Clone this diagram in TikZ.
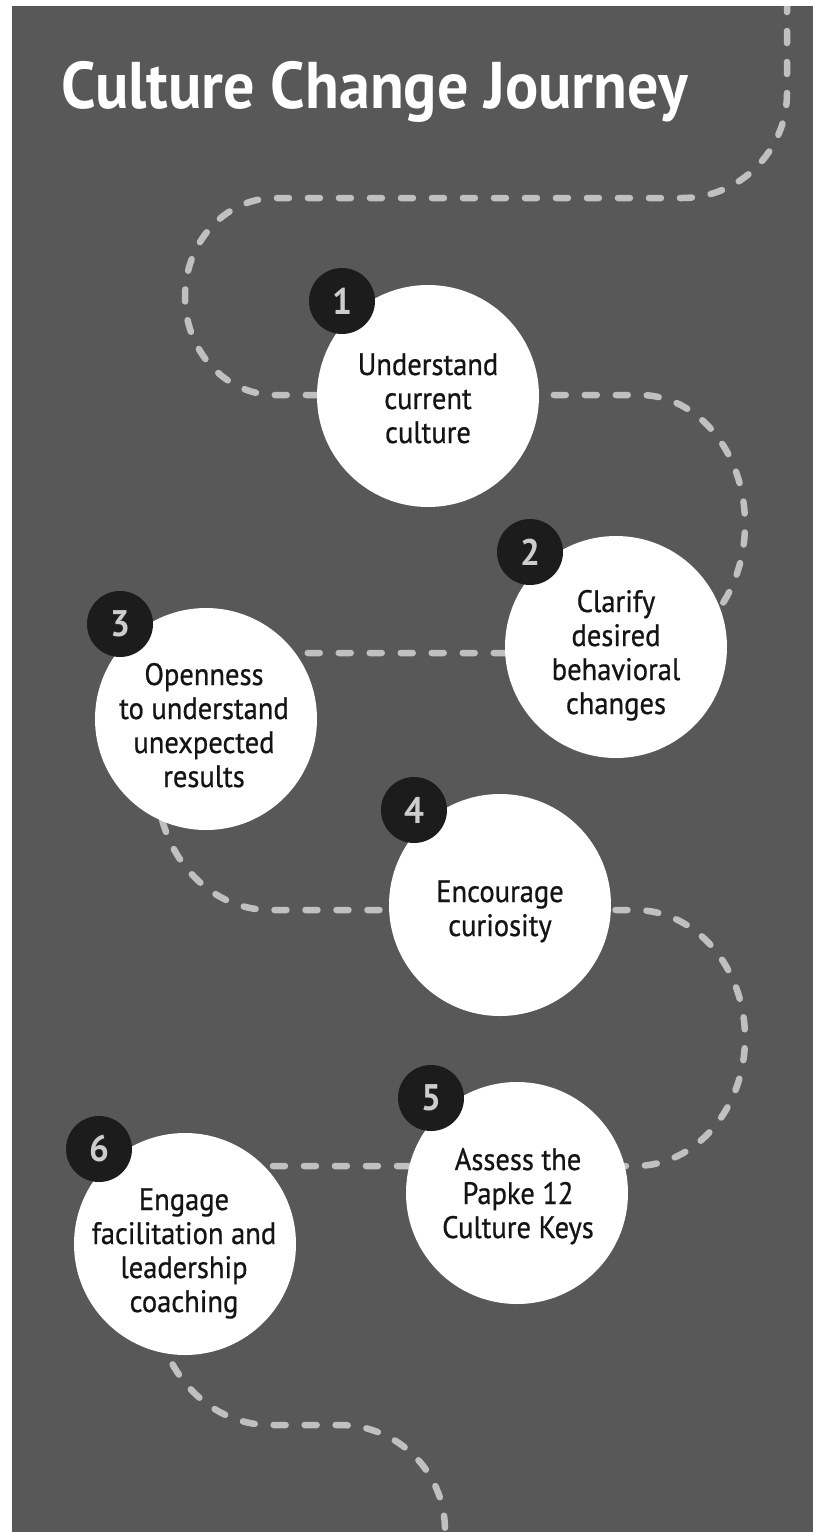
\documentclass[tikz,border=0pt]{standalone}
\usepackage{fontspec}
\usetikzlibrary{calc}
\setmainfont{PT Sans}
\newfontfamily\bodyfont[FakeStretch=0.92,FakeBold=0.7]{PT Sans}
\newfontfamily\titlefont[FakeStretch=0.94]{PT Sans}
\newfontfamily\numfont[FakeStretch=0.95]{PT Sans}
\definecolor{bg}{RGB}{88,88,88}
\definecolor{dashc}{RGB}{192,192,192}
\definecolor{badgecol}{RGB}{28,28,28}
\definecolor{numc}{RGB}{205,205,205}
\definecolor{ink}{RGB}{20,20,20}
\newcommand{\stk}[1]{\begin{tabular}[t]{@{}c@{}}#1\end{tabular}}
\tikzset{
  stepcircle/.style={circle, fill=white, minimum size=222pt, inner sep=0pt},
  badgenode/.style={circle, fill=badgecol, minimum size=66pt, inner sep=0pt, text=numc,
    font=\numfont\bfseries\fontsize{37}{37}\selectfont},
  steptext/.style={anchor=base, text=ink, inner sep=0pt,
    font=\bodyfont\fontsize{31}{34}\selectfont},
  road/.style={draw=dashc, line width=6.5pt, line cap=round, dash pattern=on 12pt off 19pt},
}
\begin{document}
\begin{tikzpicture}[x=1pt,y=-1pt]
\useasboundingbox (0,0) rectangle (813,1532);
\fill[white] (0,0) rectangle (813,1532);
\fill[bg] (12,6) rectangle (813,1532);

% winding road
\begin{scope}
\clip (12,6) rectangle (813,1532);
\draw[road] (787,0) -- (787,93)
  .. controls (787,151) and (740,198) .. (682,198)
  -- (275,198)
  .. controls (225.3,198) and (185,242.1) .. (185,296.5)
  .. controls (185,350.9) and (225.3,395) .. (275,395)
  -- (640,395)
  .. controls (698,395) and (745,452.8) .. (745,524)
  .. controls (745,595.2) and (698,653) .. (640,653)
  -- (270,653)
  .. controls (207.6,653) and (157,710.5) .. (157,781.5)
  .. controls (157,852.5) and (207.6,910) .. (270,910)
  -- (635,910)
  .. controls (695.8,910) and (745,967.3) .. (745,1038)
  .. controls (745,1108.7) and (695.8,1166) .. (635,1166)
  -- (270,1166)
  .. controls (206.5,1166) and (155,1224) .. (155,1295.5)
  .. controls (155,1367) and (206.5,1425) .. (270,1425)
  -- (340,1425)
  .. controls (398,1425) and (445,1472) .. (445,1530)
  -- (445,1545);
\end{scope}

% title
\node[anchor=base west, inner sep=0pt, text=white,
  font=\titlefont\bfseries\fontsize{66}{66}\selectfont] (title) at (61,108) {Culture Change Journey};

% circles
\node[stepcircle] (c1) at (428,396) {};
\node[stepcircle] (c2) at (616,647) {};
\node[stepcircle] (c3) at (206,719) {};
\node[stepcircle] (c4) at (500,905) {};
\node[stepcircle] (c5) at (517,1193) {};
\node[stepcircle] (c6) at (185,1244) {};

% badges
\node[badgenode] (b1) at ($(c1)+(-86,-95)$) {1};
\node[badgenode] (b2) at ($(c2)+(-86,-95)$) {2};
\node[badgenode] (b3) at ($(c3)+(-86,-95)$) {3};
\node[badgenode] (b4) at ($(c4)+(-86,-95)$) {4};
\node[badgenode] (b5) at ($(c5)+(-86,-95)$) {5};
\node[badgenode] (b6) at ($(c6)+(-86,-95)$) {6};

% texts
\node[steptext] (t1) at (428,375) {\stk{Understand\\current\\culture}};
\node[steptext] (t2) at (616,612) {\stk{Clarify\\desired\\behavioral\\changes}};
\node[steptext] (t3) at (204,685) {\stk{Openness\\to understand\\unexpected\\results}};
\node[steptext] (t4) at (500,902) {\stk{Encourage\\curiosity}};
\node[steptext] (t5) at (518,1170) {\stk{Assess the\\Papke 12\\Culture Keys}};
\node[steptext] (t6) at (184,1210) {\stk{Engage\\facilitation and\\leadership\\coaching}};
\end{tikzpicture}
\end{document}
